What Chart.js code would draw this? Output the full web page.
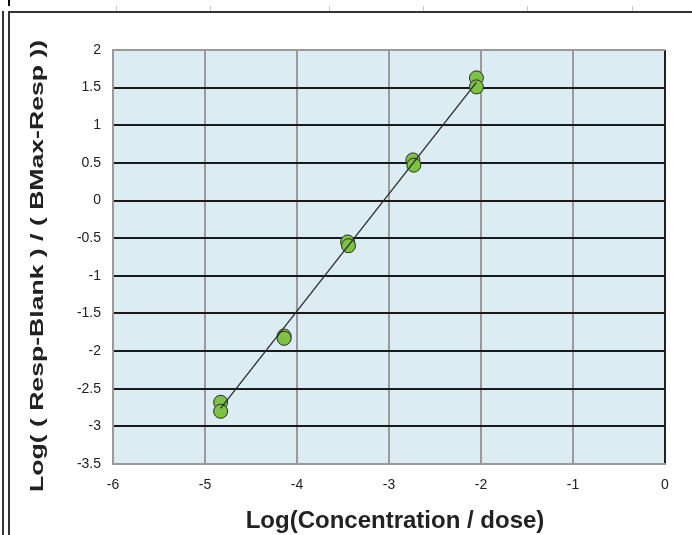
<!DOCTYPE html>
<html>
<head>
<meta charset="utf-8">
<script src="https://cdn.jsdelivr.net/npm/chart.js@4/dist/chart.umd.min.js"></script>
<style>
  html,body{margin:0;padding:0;background:#fff;}
  #wrap{position:relative;width:692px;height:535px;overflow:hidden;}
  canvas{position:absolute;left:0;top:0;}
  .ln{position:absolute;background:#333;}
  .tk{position:absolute;background:#c8c8c8;}
</style>
</head>
<body>
<div id="wrap">
  <canvas id="c" width="692" height="535"></canvas>
  <div class="ln" style="left:8px;top:11px;width:684px;height:2px;"></div>
  <div class="ln" style="left:8px;top:11px;width:2px;height:524px;"></div>
  <div class="ln" style="left:2px;top:11px;width:2px;height:524px;"></div>
  <div class="ln" style="left:8px;top:0px;width:2px;height:6px;background:#000;"></div>
  <div class="tk" style="left:116px;top:6px;width:1px;height:5px;"></div>
  <div class="tk" style="left:210px;top:6px;width:1px;height:5px;"></div>
  <div class="tk" style="left:329px;top:6px;width:1px;height:5px;"></div>
  <div class="tk" style="left:423px;top:6px;width:1px;height:5px;"></div>
  <div class="tk" style="left:527px;top:6px;width:1px;height:5px;"></div>
  <div class="tk" style="left:632px;top:6px;width:1px;height:5px;"></div>
</div>
<script>
// Data
const concX = [-4.83, -4.83, -4.14, -4.14, -3.45, -3.44, -2.74, -2.73, -2.05, -2.05];
const respY = [-2.68, -2.80, -1.80, -1.83, -0.55, -0.60, 0.54, 0.47, 1.63, 1.51];
const fitX = [-4.83, -2.05];
const fitY = [-2.76, 1.57];
const xTicks = [-6, -5, -4, -3, -2, -1, 0];
const yTicks = [2, 1.5, 1, 0.5, 0, -0.5, -1, -1.5, -2, -2.5, -3, -3.5];
const xTitle = 'Log(Concentration / dose)';
const yTitle = 'Log( ( Resp-Blank ) / ( BMax-Resp ))';

const bgPlugin = {
  id: 'bg',
  beforeDraw(chart) {
    const {ctx, chartArea: a} = chart;
    ctx.save();
    ctx.fillStyle = '#DBEDF3';
    ctx.fillRect(a.left, a.top, a.right - a.left, a.bottom - a.top);
    ctx.restore();
  }
};

// Axis titles (drawn as canvas text, stretched like the reference picture)
const titlePlugin = {
  id: 'titles',
  afterDraw(chart) {
    const {ctx, chartArea: a} = chart;
    ctx.save();
    ctx.fillStyle = '#222';
    ctx.textAlign = 'center';
    ctx.textBaseline = 'middle';
    ctx.font = 'bold 24px "Liberation Sans", Arial, sans-serif';
    ctx.fillText(xTitle, (a.left + a.right) / 2 + 6, 521);
    ctx.restore();

    ctx.save();
    ctx.fillStyle = '#222';
    ctx.textAlign = 'center';
    ctx.textBaseline = 'middle';
    ctx.translate(38, 266);
    ctx.rotate(-Math.PI / 2);
    ctx.scale(1.4, 1);
    ctx.font = 'bold 19px "Liberation Sans", Arial, sans-serif';
    ctx.fillText(yTitle, 0, 0);
    ctx.restore();
  }
};

const tickFont = {family: '"Liberation Sans", Arial, sans-serif', size: 14};

new Chart(document.getElementById('c'), {
  type: 'scatter',
  data: {
    datasets: [
      {
        type: 'line',
        data: fitX.map((x, i) => ({x, y: fitY[i]})),
        borderColor: '#2a2a2a',
        borderWidth: 1.3,
        pointRadius: 0,
        fill: false
      },
      {
        data: concX.map((x, i) => ({x, y: respY[i]})),
        backgroundColor: '#7DC242',
        borderColor: '#2b2b2b',
        borderWidth: 1,
        pointRadius: 7
      }
    ]
  },
  options: {
    responsive: false,
    animation: false,
    devicePixelRatio: 1,
    layout: {padding: {left: 0, top: 50, right: 27, bottom: 0}},
    plugins: {legend: {display: false}, tooltip: {enabled: false}},
    scales: {
      x: {
        type: 'linear',
        min: -6, max: 0,
        afterBuildTicks(s) { s.ticks = xTicks.map(v => ({value: v})); },
        afterFit(s) { s.height = 71; },
        ticks: {color: '#222', font: tickFont, padding: 13, callback: v => String(v)},
        grid: {
          color: ctx => (ctx.tick && ctx.tick.value === 0) ? '#222' : '#9a9a9a',
          lineWidth: 2,
          drawTicks: false
        },
        border: {display: true, color: '#9a9a9a', width: 2},
        title: {display: false, text: xTitle}
      },
      y: {
        type: 'linear',
        min: -3.5, max: 2,
        afterBuildTicks(s) { s.ticks = yTicks.map(v => ({value: v})); },
        afterFit(s) { s.width = 113; },
        ticks: {color: '#222', font: tickFont, padding: 12, callback: v => String(v)},
        grid: {
          color: ctx => (ctx.tick && ctx.tick.value === 2) ? '#9a9a9a' : '#1a1a1a',
          lineWidth: 2,
          drawTicks: false
        },
        border: {display: true, color: '#9a9a9a', width: 2},
        title: {display: false, text: yTitle}
      }
    }
  },
  plugins: [bgPlugin, titlePlugin]
});
</script>
</body>
</html>
